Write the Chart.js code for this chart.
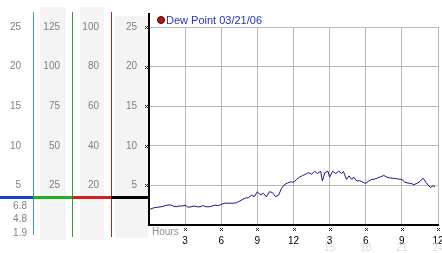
<!DOCTYPE html>
<html>
<head>
<meta charset="utf-8">
<script src="https://cdn.jsdelivr.net/npm/chart.js@4"></script>
<style>
  body { margin: 0; background: #fff; }
  #wrap { width: 442px; height: 253px; }
</style>
</head>
<body>
<div id="wrap"><canvas id="myChart" width="442" height="253"></canvas></div>
<script>
// hours since midnight and dew point readings
const hours = [0, 0.25, 0.5, 0.75, 1, 1.25, 1.5, 1.75, 2, 2.25, 2.5, 2.75, 3, 3.25, 3.5, 3.75,
  4, 4.25, 4.5, 4.75, 5, 5.25, 5.5, 5.75, 6, 6.25, 6.5, 6.75, 7, 7.25, 7.5, 7.75,
  8, 8.25, 8.5, 8.75, 9, 9.25, 9.5, 9.75, 10, 10.25, 10.5, 10.75, 11, 11.25, 11.5, 11.75,
  12, 12.25, 12.5, 12.75, 13, 13.25, 13.5, 13.75, 14, 14.25, 14.4, 14.6, 14.85, 15, 15.25, 15.5, 15.75,
  16, 16.15, 16.4, 16.6, 16.85, 17, 17.25, 17.5, 17.75, 18, 18.25, 18.5, 18.75, 19, 19.25, 19.5, 19.75,
  20, 20.25, 20.5, 20.75, 21, 21.25, 21.5, 21.75, 22, 22.25, 22.5, 22.75, 23, 23.25, 23.4, 23.6, 23.75];
const dewPoint = [1.9, 2.1, 2.2, 2.25, 2.3, 2.4, 2.5, 2.55, 2.4, 2.3, 2.4, 2.4, 2.5, 2.25, 2.3, 2.4,
  2.3, 2.3, 2.45, 2.3, 2.3, 2.4, 2.5, 2.45, 2.6, 2.75, 2.75, 2.75, 2.75, 2.8, 3.0, 3.2,
  3.4, 3.45, 3.75, 3.6, 4.2, 3.8, 4.0, 3.55, 4.2, 4.1, 3.6, 3.75, 4.6, 5.1, 5.3, 5.45,
  5.4, 5.75, 6.05, 6.25, 6.4, 6.6, 6.4, 6.8, 6.5, 6.8, 5.55, 6.6, 6.8, 6.05, 6.8, 6.5, 6.8,
  6.5, 6.75, 5.75, 6.2, 5.75, 6.05, 5.55, 5.6, 5.4, 5.25, 5.55, 5.75, 5.8, 5.95, 6.1, 6.25, 6.05,
  5.95, 5.9, 5.85, 5.8, 5.75, 5.4, 5.3, 5.25, 5.1, 5.25, 5.5, 5.9, 5.4, 4.9, 4.75, 4.95, 4.8];

const seriesLabel = 'Dew Point 03/21/06';
const xTicks = [3, 6, 9, 12, 15, 18, 21, 24];
// left-hand axis columns: max and step of each
const axisMax = [25, 125, 100, 25];
const axisStep = [5, 25, 20, 5];

const points = hours.map((h, i) => ({x: h, y: dewPoint[i]}));
const stats = [Math.max(...dewPoint), dewPoint[dewPoint.length - 1], Math.min(...dewPoint)];

Chart.defaults.font.family = '"Liberation Sans", Arial, sans-serif';
Chart.defaults.font.size = 10;

function leftAxis(i, weight, width, gridOn) {
  return {
    type: 'linear',
    position: 'left',
    weight: weight,
    min: 0,
    max: axisMax[i],
    border: {display: false},
    grid: {display: gridOn, drawTicks: false, color: '#b8b8b8', lineWidth: 1},
    ticks: {
      stepSize: axisStep[i],
      padding: 12,
      color: '#808080',
      callback: v => v === 0 ? '' : v
    },
    afterFit: s => { s.width = width; s.paddingTop = 0; s.paddingBottom = 0; }
  };
}

function cross(ctx, x, y) {
  ctx.fillRect(x - 1, y - 1, 1, 1);
  ctx.fillRect(x + 1, y - 1, 1, 1);
  ctx.fillRect(x, y, 1, 1);
  ctx.fillRect(x - 1, y + 1, 1, 1);
  ctx.fillRect(x + 1, y + 1, 1, 1);
}

const decor = {
  id: 'decor',
  beforeDraw(chart) {
    const ctx = chart.ctx;
    const s = chart.scales;
    ctx.save();
    ctx.fillStyle = '#f4f4f4';
    ctx.fillRect(s.c2.left + 7, 7, s.c2.width - 13, 233);
    ctx.fillRect(s.c3.left + 8, 7, s.c3.width - 15, 233);
    ctx.fillRect(s.y.left + 4, 16, s.y.width - 5, 222);
    ctx.restore();
  },
  afterDraw(chart) {
    const ctx = chart.ctx;
    const s = chart.scales;
    const area = chart.chartArea;
    ctx.save();

    // vertical column lines
    const vline = (x, y0, y1, color, w) => {
      ctx.fillStyle = color;
      ctx.fillRect(x, y0, w, y1 - y0);
    };
    vline(s.c1.right, 12, 235, '#3a9cc4', 1);
    vline(s.c2.right, 12, 237, '#2ea02e', 1);
    vline(s.c3.right, 12, 237, '#b02424', 1);
    vline(area.left - 1, 13, area.bottom, '#000', 2);

    // coloured separator line
    const sepY = Math.round(s.y.getPixelForValue(3.6));
    ctx.fillStyle = '#1f3fd0'; ctx.fillRect(0, sepY, s.c1.right, 3);
    ctx.fillStyle = '#22b022'; ctx.fillRect(s.c1.right, sepY, s.c2.width, 3);
    ctx.fillStyle = '#d42020'; ctx.fillRect(s.c2.right, sepY, s.c3.width, 3);
    ctx.fillStyle = '#000';    ctx.fillRect(s.c3.right, sepY, s.y.width, 3);

    // max / current / min under the first column
    ctx.fillStyle = '#808080';
    ctx.font = '10px "Liberation Sans", Arial, sans-serif';
    ctx.textAlign = 'right';
    ctx.textBaseline = 'middle';
    ctx.fillText(stats[0].toFixed(1), s.c1.right - 6, sepY + 10);
    ctx.fillText(stats[1].toFixed(1), s.c1.right - 6, sepY + 23);
    ctx.fillText(stats[2].toFixed(1), s.c1.right - 6, sepY + 37);

    // little marks on the axes
    ctx.fillStyle = '#222';
    s.y.ticks.forEach(t => { if (t.value > 0) cross(ctx, area.left - 3, Math.round(s.y.getPixelForValue(t.value))); });
    xTicks.forEach(h => cross(ctx, Math.round(s.x.getPixelForValue(h)), 229));

    // Hours caption and faint 24h labels
    ctx.textAlign = 'left';
    ctx.fillStyle = '#909090';
    ctx.fillText('Hours', area.left + 3, 232);
    ctx.textAlign = 'center';
    ctx.fillStyle = '#dcdcdc';
    xTicks.filter(h => h > 12).forEach(h => ctx.fillText(String(h), s.x.getPixelForValue(h), 248));

    // legend
    const lx = area.left + 12, ly = 20;
    ctx.beginPath();
    ctx.arc(lx, ly, 3.5, 0, Math.PI * 2);
    ctx.fillStyle = '#b01818';
    ctx.fill();
    ctx.strokeStyle = '#500';
    ctx.lineWidth = 1;
    ctx.stroke();
    ctx.textAlign = 'left';
    ctx.fillStyle = '#2434b4';
    ctx.font = '11px "Liberation Sans", Arial, sans-serif';
    ctx.fillText(chart.data.datasets[0].label, lx + 5, ly + 1);
    ctx.restore();
  }
};

new Chart(document.getElementById('myChart'), {
  type: 'line',
  data: {
    datasets: [{
      label: seriesLabel,
      data: points,
      yAxisID: 'y',
      borderColor: '#18187f',
      borderWidth: 1,
      pointRadius: 0,
      tension: 0
    }]
  },
  options: {
    responsive: false,
    animation: false,
    layout: {padding: {top: 27, right: 4, left: 0, bottom: 0}},
    plugins: {legend: {display: false}, tooltip: {enabled: false}},
    scales: {
      x: {
        type: 'linear',
        min: 0,
        max: 24,
        border: {display: true, color: '#000', width: 2},
        grid: {drawTicks: false, color: '#b8b8b8', lineWidth: 1},
        ticks: {
          stepSize: 3,
          padding: 10,
          color: '#000',
          maxRotation: 0,
          autoSkip: false,
          callback: v => v === 0 ? '' : String(v % 12 === 0 ? 12 : v % 12)
        },
        afterFit: s => { s.height = 28; s.paddingLeft = 0; s.paddingRight = 0; }
      },
      c1: leftAxis(0, 3, 33, false),
      c2: leftAxis(1, 2, 39, false),
      c3: leftAxis(2, 1, 39, false),
      y: leftAxis(3, 0, 38, true)
    }
  },
  plugins: [decor]
});
</script>
</body>
</html>
